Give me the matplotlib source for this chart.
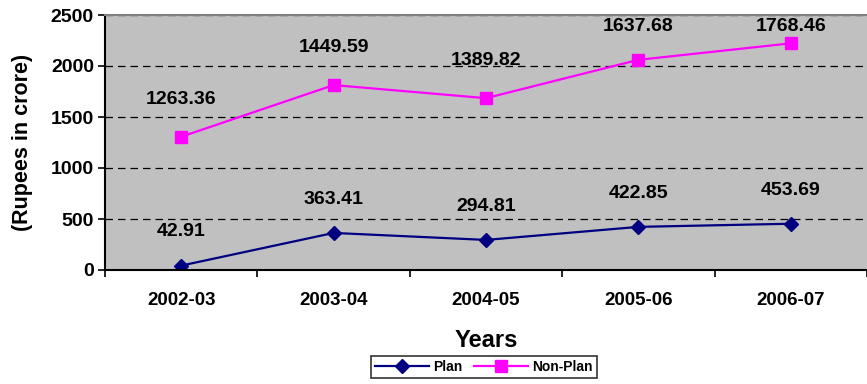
import numpy as np
import matplotlib.pyplot as plt

years = ['2002-03', '2003-04', '2004-05', '2005-06', '2006-07']
plan = [42.91, 363.41, 294.81, 422.85, 453.69]
non_plan = [1263.36, 1449.59, 1389.82, 1637.68, 1768.46]

plt.rcParams['font.family'] = ['Liberation Sans', 'DejaVu Sans']
plt.rcParams['font.weight'] = 'bold'

fig = plt.figure(figsize=(8.67, 3.84), dpi=100)
ax = fig.add_axes([105 / 867, 1 - 270 / 384, 762 / 867, 255 / 384])
ax.set_facecolor('#C0C0C0')

x = np.arange(len(years))
plan_arr = np.array(plan)
stacked = plan_arr + np.array(non_plan)  # stacked line chart

ax.plot(x, plan_arr, color='#000080', marker='D', markersize=7, lw=1.6, label='Plan')
ax.plot(x, stacked, color='#FF00FF', marker='s', markersize=9, lw=1.6, label='Non-Plan')

for xi, yv, lab in zip(x, plan_arr, plan):
    ax.text(xi, yv + 330, f'{lab:.2f}', ha='center', va='center', fontsize=14, weight='bold')
for xi, yv, lab in zip(x, stacked, non_plan):
    ax.text(xi, min(yv + 370, 2390), f'{lab:.2f}', ha='center', va='center', fontsize=14, weight='bold')

ax.set_xlim(-0.5, 4.5)
ax.set_ylim(0, 2500)
ax.set_yticks(np.arange(0, 2501, 500))
ax.yaxis.grid(True, color='black', linestyle=(0, (6, 4)), lw=0.9)
ax.set_axisbelow(True)
ax.set_xticks(x)
ax.set_xticklabels(years, fontsize=13.5, weight='bold')
ax.set_xticks(np.arange(-0.5, 5, 1), minor=True)
ax.tick_params(axis='x', which='major', length=0, pad=16)
ax.tick_params(axis='x', which='minor', length=5, width=1.2, direction='out')
ax.tick_params(axis='y', length=5, width=1.2, labelsize=14, pad=3)
for t in ax.get_yticklabels():
    t.set_fontweight('bold')

ax.spines['left'].set_linewidth(1.5)
ax.spines['bottom'].set_linewidth(1.5)
ax.spines['top'].set_color('#808080')
ax.spines['top'].set_linewidth(1.5)
ax.spines['right'].set_visible(False)

ax.set_xlabel('Years', fontsize=17, weight='bold', labelpad=14)
ax.set_ylabel('(Rupees in crore)', fontsize=15.5, weight='bold', labelpad=13)

leg = fig.legend(loc='center', bbox_to_anchor=(484 / 867, 1 - 367 / 384), ncol=2,
                 frameon=True, fancybox=False, edgecolor='black', fontsize=10,
                 handlelength=3.9, columnspacing=0.8, borderpad=0.3, handletextpad=0.3)
leg.get_frame().set_linewidth(1.2)
for t in leg.get_texts():
    t.set_fontweight('bold')

fig.savefig('out.png', dpi=100)
